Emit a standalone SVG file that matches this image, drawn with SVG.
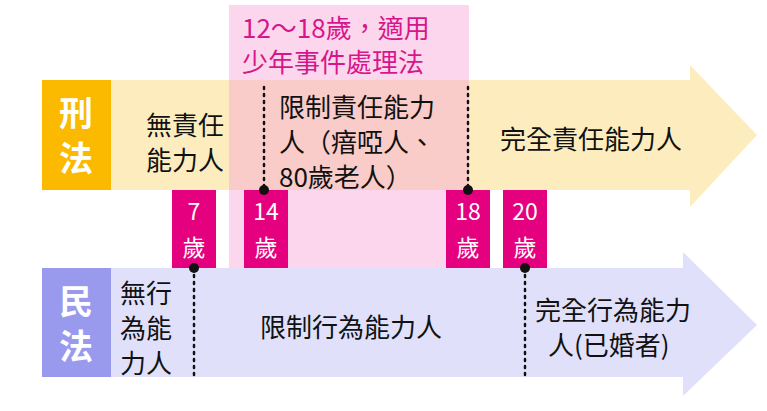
<svg xmlns="http://www.w3.org/2000/svg" width="767" height="411" viewBox="0 0 767 411">
<style>
text{font-family:"Noto Sans CJK TC","Noto Sans CJK SC",sans-serif;font-size:26px;fill:#111}
.lab{fill:#fff;font-size:34px;font-weight:bold;text-anchor:middle}
.age{fill:#fff;font-size:23px;text-anchor:middle}
.dot{stroke:#111;stroke-width:2.5;stroke-dasharray:2 5;stroke-linecap:round;fill:none}
.mag{fill:#e4007f}
</style>
<rect width="767" height="411" fill="#fff"/>
<g id="criminal">
<polygon points="42,80 690,80 690,65 757,135 690,207 690,190 42,190" fill="#fdedbe"/>
<rect x="42" y="80" width="69" height="110" fill="#fbb900"/>
<text class="lab" x="76" y="126">刑</text>
<text class="lab" x="76" y="171">法</text>
<text x="146" y="135">無責任</text>
<text x="146" y="170">能力人</text>
<text x="500" y="149">完全責任能力人</text>
</g>
<g id="civil">
<polygon points="42,268 683,268 683,252 757,325 683,396 683,377 42,377" fill="#e0e0fb"/>
<rect x="42" y="268" width="69" height="109" fill="#9999ee"/>
<text class="lab" x="76" y="314">民</text>
<text class="lab" x="76" y="359">法</text>
<text x="120" y="303">無行</text>
<text x="120" y="338">為能</text>
<text x="120" y="373">力人</text>
<text x="260" y="337">限制行為能力人</text>
<text x="535" y="320">完全行為能力</text>
<text x="548" y="355">人(已婚者)</text>
</g>
<g id="juvenile">
<rect x="229" y="5" width="240" height="263" fill="#f6a3d8" fill-opacity="0.45"/>
<text x="242" y="38" style="fill:#d8168b">12～18歲，適用</text>
<text x="242" y="72" style="fill:#d8168b">少年事件處理法</text>
<text x="279" y="117">限制責任能力</text>
<text x="279" y="152">人（瘖啞人、</text>
<text x="279" y="187">80歲老人）</text>
</g>
<g id="ages">
<rect class="mag" x="172" y="190" width="44" height="78"/>
<text class="age" x="194" y="220">7</text><text class="age" x="194" y="256">歲</text>
<rect class="mag" x="244" y="190" width="44" height="78"/>
<text class="age" x="266" y="220">14</text><text class="age" x="266" y="256">歲</text>
<rect class="mag" x="446" y="190" width="44" height="78"/>
<text class="age" x="468" y="220">18</text><text class="age" x="468" y="256">歲</text>
<rect class="mag" x="503" y="190" width="44" height="78"/>
<text class="age" x="525" y="220">20</text><text class="age" x="525" y="256">歲</text>
</g>
<g id="connectors">
<line class="dot" x1="264" y1="87" x2="264" y2="190"/>
<line class="dot" x1="468" y1="87" x2="468" y2="190"/>
<line class="dot" x1="194" y1="268" x2="194" y2="377"/>
<line class="dot" x1="525" y1="268" x2="525" y2="377"/>
<circle cx="264" cy="190" r="5" fill="#111"/>
<circle cx="468" cy="190" r="5" fill="#111"/>
<circle cx="194" cy="268" r="5" fill="#111"/>
<circle cx="525" cy="268" r="5" fill="#111"/>
</g>
</svg>
